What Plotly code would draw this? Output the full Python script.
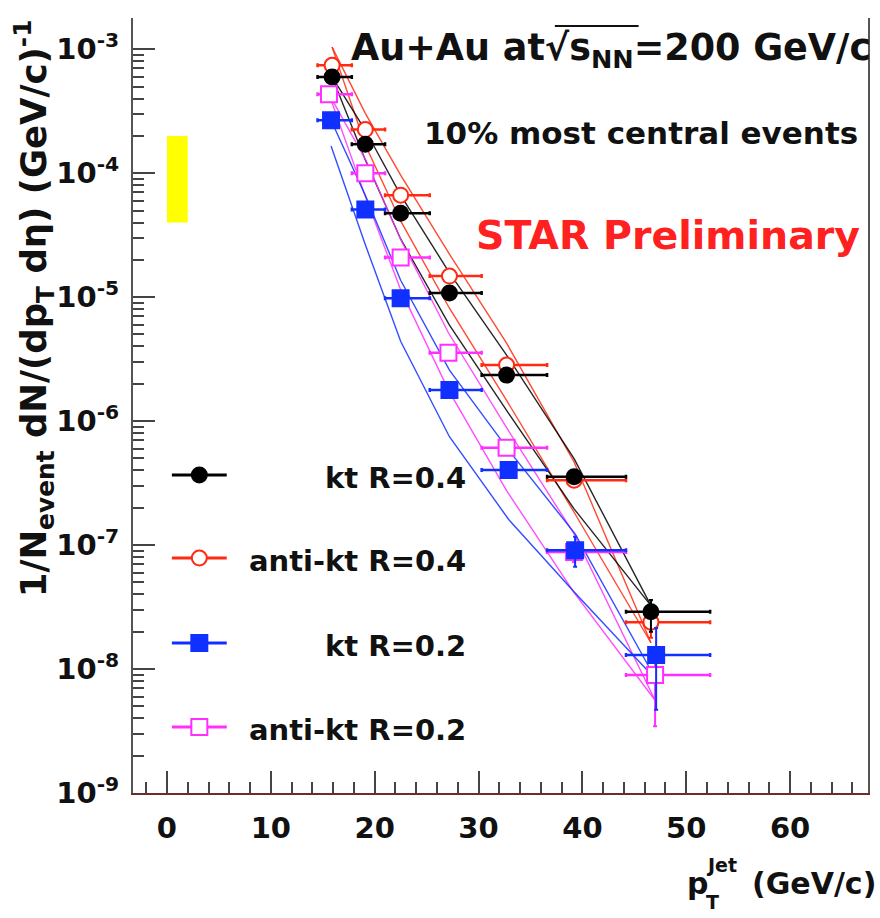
import plotly.graph_objects as go

# ---------------- data ----------------
pt_bin_lo = [14.5, 17.8, 21.0, 25.3, 30.3, 36.6, 44.2]
pt_bin_hi = [17.8, 21.0, 25.3, 30.3, 36.6, 44.2, 52.3]

kt04_pt = [15.9, 19.1, 22.5, 27.2, 32.7, 39.2, 46.6]
kt04_y = [5.98e-4, 1.71e-4, 4.76e-5, 1.08e-5, 2.35e-6, 3.56e-7, 2.90e-8]
kt04_err_up = [2.0e-5, 5.0e-6, 1.5e-6, 4.0e-7, 1.0e-7, 2.5e-8, 7.0e-9]
kt04_err_dn = [2.0e-5, 5.0e-6, 1.5e-6, 4.0e-7, 1.0e-7, 2.5e-8, 9.0e-9]
kt04_sys_hi = [5.98e-4, 2.22e-4, 6.66e-5, 1.57e-5, 3.41e-6, 4.98e-7, 3.25e-8]
kt04_sys_lo = [5.98e-4, 1.28e-4, 2.95e-5, 5.94e-6, 1.22e-6, 1.96e-7, 3.25e-8]

akt04_pt = [15.9, 19.1, 22.5, 27.2, 32.7, 39.2, 46.6]
akt04_y = [7.43e-4, 2.25e-4, 6.65e-5, 1.48e-5, 2.83e-6, 3.34e-7, 2.39e-8]
akt04_err_up = [3.0e-5, 7.0e-6, 2.0e-6, 5.0e-7, 1.0e-7, 2.5e-8, 1.2e-8]
akt04_err_dn = [3.0e-5, 7.0e-6, 2.0e-6, 5.0e-7, 1.0e-7, 2.5e-8, 6.0e-9]
akt04_sys_hi = [1.04e-3, 3.04e-4, 9.64e-5, 2.22e-5, 4.25e-6, 4.68e-7, 1.63e-8]
akt04_sys_lo = [1.04e-3, 1.69e-4, 4.12e-5, 8.14e-6, 1.47e-6, 1.84e-7, 1.63e-8]

kt02_pt = [15.8, 19.1, 22.5, 27.2, 32.9, 39.3, 47.1]
kt02_y = [2.67e-4, 5.09e-5, 9.8e-6, 1.78e-6, 4.03e-7, 9.1e-8, 1.30e-8]
kt02_err_up = [1.0e-5, 2.0e-6, 4.0e-7, 8.0e-8, 2.5e-8, 2.6e-8, 8.4e-9]
kt02_err_dn = [1.0e-5, 2.0e-6, 4.0e-7, 8.0e-8, 2.5e-8, 2.4e-8, 8.3e-9]
kt02_sys_hi = [2.67e-4, 6.62e-5, 1.37e-5, 2.58e-6, 5.84e-7, 1.23e-7, 8.2e-9]
kt02_sys_lo = [1.66e-4, 2.65e-5, 4.41e-6, 7.48e-7, 1.61e-7, 4.10e-8, 8.2e-9]

akt02_pt = [15.6, 19.1, 22.5, 27.1, 32.7, 39.2, 47.0]
akt02_y = [4.34e-4, 1.00e-4, 2.09e-5, 3.56e-6, 6.1e-7, 8.8e-8, 8.95e-9]
akt02_err_up = [1.5e-5, 4.0e-6, 8.0e-7, 1.5e-7, 3.0e-8, 1.5e-8, 2.3e-9]
akt02_err_dn = [1.5e-5, 4.0e-6, 8.0e-7, 1.5e-7, 3.0e-8, 1.5e-8, 5.5e-9]
akt02_sys_hi = [4.34e-4, 1.30e-4, 2.93e-5, 5.16e-6, 8.85e-7, 1.23e-7, 5.6e-9]
akt02_sys_lo = [4.34e-4, 6.50e-5, 1.15e-5, 1.78e-6, 2.75e-7, 4.14e-8, 5.6e-9]

norm_box_x = [0.0, 2.0]
norm_box_y = [4.0e-5, 2.0e-4]

legend_labels = ["kt R=0.4", "anti-kt R=0.4", "kt R=0.2", "anti-kt R=0.2"]
x_tick_vals = [0, 10, 20, 30, 40, 50, 60]
y_tick_exps = [-9, -8, -7, -6, -5, -4, -3]

# ---------------- style ----------------
FONT = "DejaVu Sans"
C_BLACK = "#000000"
C_RED = "#ff2a10"
C_BLUE = "#1030ff"
C_MAG = "#ff30ff"

series = [
    dict(pt=akt04_pt, y=akt04_y, up=akt04_err_up, dn=akt04_err_dn, hi=akt04_sys_hi, lo=akt04_sys_lo,
         color=C_RED, symbol="circle", fill="white", size=15, name=legend_labels[1]),
    dict(pt=kt04_pt, y=kt04_y, up=kt04_err_up, dn=kt04_err_dn, hi=kt04_sys_hi, lo=kt04_sys_lo,
         color=C_BLACK, symbol="circle", fill=C_BLACK, size=15, name=legend_labels[0]),
    dict(pt=akt02_pt, y=akt02_y, up=akt02_err_up, dn=akt02_err_dn, hi=akt02_sys_hi, lo=akt02_sys_lo,
         color=C_MAG, symbol="square", fill="white", size=16, name=legend_labels[3]),
    dict(pt=kt02_pt, y=kt02_y, up=kt02_err_up, dn=kt02_err_dn, hi=kt02_sys_hi, lo=kt02_sys_lo,
         color=C_BLUE, symbol="square", fill=C_BLUE, size=16, name=legend_labels[2]),
]

fig = go.Figure()

# normalisation uncertainty box
fig.add_trace(go.Scatter(
    x=[norm_box_x[0], norm_box_x[1], norm_box_x[1], norm_box_x[0], norm_box_x[0]],
    y=[norm_box_y[0], norm_box_y[0], norm_box_y[1], norm_box_y[1], norm_box_y[0]],
    mode="lines", fill="toself", fillcolor="#ffff00", line=dict(width=0, color="#ffff00"),
    showlegend=False, hoverinfo="skip"))

# systematic band lines
for s in series:
    for band in (s["hi"], s["lo"]):
        fig.add_trace(go.Scatter(x=s["pt"], y=band, mode="lines",
                                 line=dict(color=s["color"], width=1.4),
                                 opacity=0.85, showlegend=False, hoverinfo="skip"))

# data points
for s in series:
    ex_p = [h - x for h, x in zip(pt_bin_hi, s["pt"])]
    ex_m = [x - l for l, x in zip(pt_bin_lo, s["pt"])]
    fig.add_trace(go.Scatter(
        x=s["pt"], y=s["y"], mode="markers", name=s["name"], showlegend=False,
        marker=dict(symbol=s["symbol"], size=s["size"], color=s["fill"],
                    line=dict(color=s["color"], width=2)),
        error_x=dict(type="data", symmetric=False, array=ex_p, arrayminus=ex_m,
                     color=s["color"], thickness=2.5, width=2),
        error_y=dict(type="data", symmetric=False, array=s["up"], arrayminus=s["dn"],
                     color=s["color"], thickness=2, width=2),
    ))

# ---------------- custom legend (overlay axes in plot-fraction units) ----------------
L, R, T, B = 133, 10, 18, 125
W, H = 880, 918
PW, PH = W - L - R, H - T - B

def fx(px):
    return (px - L) / PW

def fy(py):
    return (H - B - py) / PH

leg_rows = [475, 558, 643, 727]
leg_order = [1, 0, 3, 2]  # series index for kt0.4, akt0.4, kt0.2, akt0.2
for row, si in zip(leg_rows, leg_order):
    s = series[si]
    fig.add_trace(go.Scatter(
        x=[fx(172), fx(199.5), fx(227)], y=[fy(row)] * 3, xaxis="x2", yaxis="y2",
        mode="lines", line=dict(color=s["color"], width=3), showlegend=False, hoverinfo="skip"))
    fig.add_trace(go.Scatter(
        x=[fx(199.5)], y=[fy(row)], xaxis="x2", yaxis="y2", mode="markers",
        marker=dict(symbol=s["symbol"], size=s["size"], color=s["fill"],
                    line=dict(color=s["color"], width=2)),
        showlegend=False, hoverinfo="skip"))
    fig.add_annotation(x=fx(469), y=fy(row + 3), xref="paper", yref="paper",
                       text="<b>%s</b>" % s["name"], showarrow=False,
                       xanchor="right", yanchor="middle",
                       font=dict(family=FONT, size=29, color="#111111"))

# ---------------- texts ----------------
def ann(text, px, py, size, color="#111111", xanchor="left", yanchor="middle", angle=0):
    fig.add_annotation(x=fx(px), y=fy(py), xref="paper", yref="paper", text=text,
                       showarrow=False, xanchor=xanchor, yanchor=yanchor, textangle=angle,
                       font=dict(family=FONT, size=size, color=color))

ann("<b>Au+Au at√s<sub>NN</sub>=200 GeV/c</b>", 875, 50, 36.5, xanchor="right")
ann("<b>10% most central events</b>", 862, 133, 31, xanchor="right")
ann("<b>STAR Preliminary</b>", 864, 235, 39.5, color="#ff2020", xanchor="right")

# y title
ann("<b>1/N<sub>event</sub> dN/(dp<sub>T</sub> dη) (GeV/c)<sup>-1</sup></b>", 33, 17, 35.5,
    xanchor="center", yanchor="top", angle=-90)

# x title
ann("<b>p</b>", 687, 883, 30)
ann("<b>Jet</b>", 706, 865, 19)
ann("<b>T</b>", 706, 902, 19)
ann("<b>(GeV/c)</b>", 880, 883, 30, xanchor="right")

# ---------------- axes ----------------
y_minor = [m * 10.0 ** e for e in range(-9, -2) for m in range(2, 10) if m * 10.0 ** e < 10 ** -2.75]

fig.update_layout(
    width=W, height=H,
    margin=dict(l=L, r=R, t=T, b=B),
    paper_bgcolor="white", plot_bgcolor="white",
    showlegend=False,
    xaxis=dict(range=[-3.27, 67.5], showgrid=False, zeroline=False,
               showline=True, linecolor="#6e2c2c", linewidth=2, mirror=False,
               ticks="inside", ticklen=22, tickwidth=1.5, tickcolor="#444444",
               tickvals=x_tick_vals, ticktext=["<b>%d</b>" % v for v in x_tick_vals],
               tickfont=dict(family=FONT, size=29, color="#111111"),
               ticklabelstandoff=8,
               minor=dict(ticks="inside", ticklen=11, tickwidth=1.5, tickcolor="#444444",
                          dtick=2, tick0=0, showgrid=False)),
    yaxis=dict(type="log", range=[-9, -2.748], showgrid=False, zeroline=False,
               showline=True, linecolor="#555555", linewidth=2, mirror=True,
               ticks="inside", ticklen=22, tickwidth=1.5, tickcolor="#444444",
               tickvals=[10.0 ** e for e in y_tick_exps],
               ticktext=["<b>10<sup>%d</sup></b>" % e for e in y_tick_exps],
               tickfont=dict(family=FONT, size=29, color="#111111"),
               ticklabelstandoff=6,
               minor=dict(ticks="inside", ticklen=11, tickwidth=1.5, tickcolor="#444444",
                          tickvals=y_minor, showgrid=False)),
    xaxis2=dict(overlaying="x", range=[0, 1], visible=False, anchor="y2"),
    yaxis2=dict(overlaying="y", range=[0, 1], visible=False, anchor="x2"),
)

# overline of the square root
fig.add_shape(type="line", xref="paper", yref="paper",
              x0=fx(556), x1=fx(640), y0=fy(26), y1=fy(26),
              line=dict(color="#111111", width=2))

fig.write_html("out.html", config={"displayModeBar": False},
               post_script="document.body.style.margin='0px';document.body.style.overflow='hidden';")
